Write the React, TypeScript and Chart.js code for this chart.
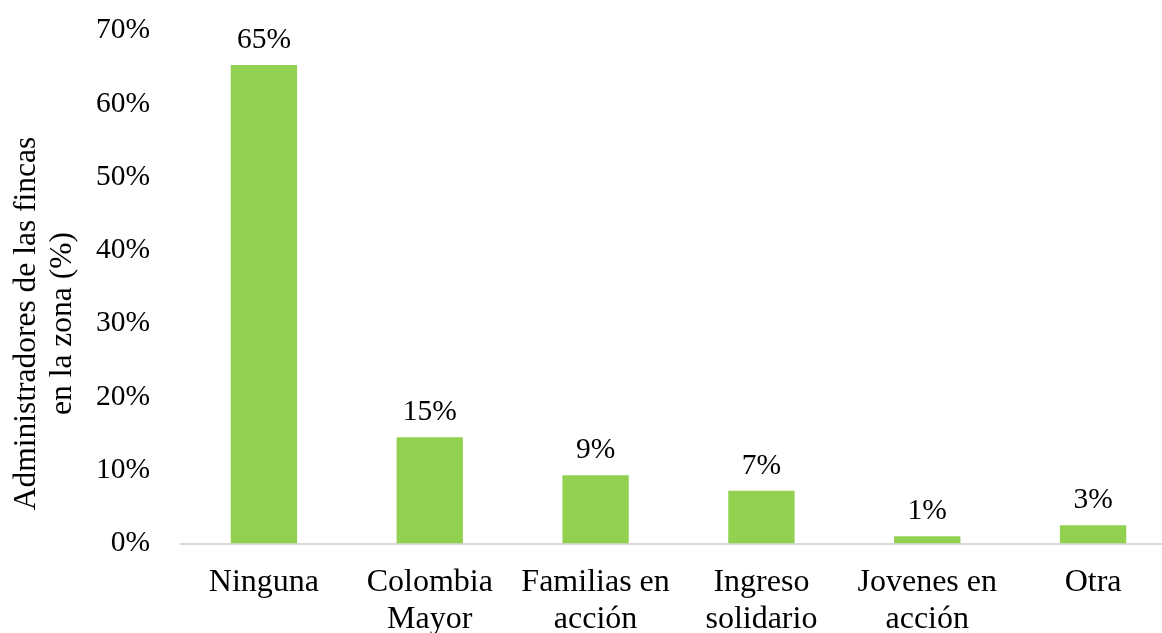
import React, { useEffect, useRef } from "react";
import { Chart, registerables } from "chart.js";

Chart.register(...registerables);

const categories: (string | string[])[] = [
  "Ninguna",
  ["Colombia", "Mayor"],
  ["Familias en", "acción"],
  ["Ingreso", "solidario"],
  ["Jovenes en", "acción"],
  "Otra",
];
const values: number[] = [65.3, 14.5, 9.3, 7.2, 1.0, 2.5];
const valueLabels: string[] = ["65%", "15%", "9%", "7%", "1%", "3%"];
const yTitleLines: string[] = ["Administradores de las fincas", "en la zona (%)"];

const FONT = "'Liberation Serif', 'Times New Roman', Times, serif";
const BAR_COLOR = "#92D050";

const dataLabelPlugin = {
  id: "dataLabels",
  afterDatasetsDraw(chart: any) {
    const ctx = chart.ctx;
    const meta = chart.getDatasetMeta(0);
    ctx.save();
    ctx.font = `29.5px ${FONT}`;
    ctx.fillStyle = "#000";
    ctx.textAlign = "center";
    ctx.textBaseline = "alphabetic";
    meta.data.forEach((bar: any, i: number) => {
      ctx.fillText(valueLabels[i], bar.x, bar.y - 17);
    });
    ctx.restore();
  },
};

const yTitlePlugin = {
  id: "yTitle",
  afterDraw(chart: any) {
    const ctx = chart.ctx;
    const cy = chart.height / 2 + 7;
    ctx.save();
    ctx.font = `31.5px ${FONT}`;
    ctx.fillStyle = "#000";
    ctx.textAlign = "center";
    ctx.textBaseline = "alphabetic";
    const xs = [35, 71];
    yTitleLines.forEach((line, i) => {
      ctx.save();
      ctx.translate(xs[i], cy);
      ctx.rotate(-Math.PI / 2);
      ctx.fillText(line, 0, 0);
      ctx.restore();
    });
    ctx.restore();
  },
};

export default function App() {
  const canvasRef = useRef<HTMLCanvasElement | null>(null);

  useEffect(() => {
    if (!canvasRef.current) return;
    const chart = new Chart(canvasRef.current, {
      type: "bar",
      data: {
        labels: categories,
        datasets: [
          {
            data: values,
            backgroundColor: BAR_COLOR,
            borderWidth: 0,
            barPercentage: 0.4,
            categoryPercentage: 1,
          },
        ],
      },
      options: {
        animation: false,
        responsive: true,
        maintainAspectRatio: false,
        layout: { padding: { top: 30.5, right: 0, bottom: 0, left: 0 } },
        plugins: {
          legend: { display: false },
          tooltip: { enabled: false },
          title: { display: false },
        },
        scales: {
          x: {
            grid: { display: false, drawTicks: false },
            border: { display: true, color: "#d9d9d9", width: 2 },
            ticks: {
              color: "#000",
              font: { family: FONT, size: 32, lineHeight: 1.15 },
              padding: 21,
              maxRotation: 0,
              autoSkip: false,
            },
            afterFit: (scale: any) => {
              scale.height = 89.5;
              scale.paddingLeft = 0;
              scale.paddingRight = 0;
            },
          },
          y: {
            min: 0,
            max: 70,
            grid: { display: false, drawTicks: false },
            border: { display: false },
            ticks: {
              stepSize: 10,
              color: "#000",
              font: { family: FONT, size: 29.5 },
              padding: 31,
              callback: (v: any) => `${v}%`,
            },
            afterFit: (scale: any) => {
              scale.width = 181;
              scale.paddingTop = 0;
              scale.paddingBottom = 0;
            },
          },
        },
      },
      plugins: [dataLabelPlugin, yTitlePlugin],
    });
    return () => chart.destroy();
  }, []);

  return (
    <div
      style={{
        position: "fixed",
        left: 0,
        top: 0,
        width: 1162,
        height: 633,
        overflow: "hidden",
        background: "#fff",
      }}
    >
      <div style={{ position: "relative", width: 1176, height: 633 }}>
        <canvas ref={canvasRef} />
      </div>
    </div>
  );
}
